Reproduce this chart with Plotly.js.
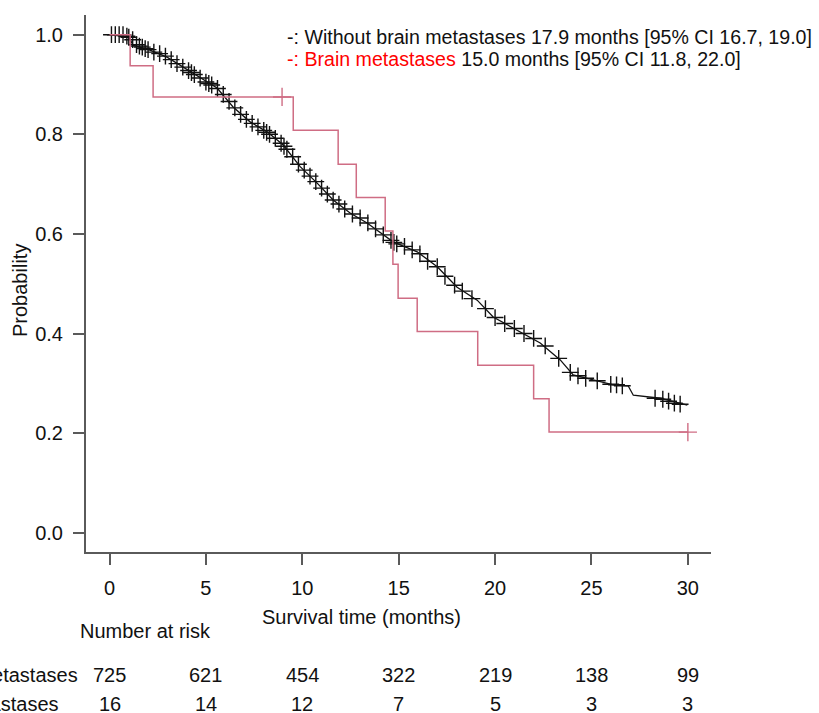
<!DOCTYPE html>
<html>
<head>
<meta charset="utf-8">
<script src="https://cdn.plot.ly/plotly-3.0.1.min.js"></script>
<style>html,body{margin:0;padding:0;background:#fff;}#chart{width:819px;height:713px;}</style>
</head>
<body>
<div id="chart"></div>
<script>
// Without brain metastases: curve points (months, probability)
const noBmTime = [0, 1.0, 1.22, 2.1, 2.98, 3.81, 4.7, 5.58, 6.41, 7.29, 8.17, 9.0, 9.89, 10.77, 11.6, 12.48, 13.36, 14.19, 14.71, 15.96, 17.0, 18.03, 19.07, 19.9, 21.15, 22.34, 23.38, 24.05, 25.09, 26.13, 26.9, 27.17, 28.57, 29.97];
const noBmProb = [1.0, 0.995, 0.979, 0.969, 0.955, 0.935, 0.913, 0.893, 0.855, 0.825, 0.805, 0.779, 0.735, 0.702, 0.668, 0.642, 0.622, 0.598, 0.584, 0.564, 0.534, 0.493, 0.467, 0.433, 0.407, 0.381, 0.347, 0.317, 0.307, 0.297, 0.295, 0.276, 0.270, 0.256];
// Without brain metastases: censor marks
const noBmCensT = [0.1, 0.3, 0.5, 0.7, 0.9, 1.0, 1.2, 1.4, 1.55, 1.7, 1.85, 2.0, 2.3, 2.6, 2.9, 3.2, 3.5, 3.8, 4.1, 4.25, 4.4, 4.7, 5.0, 5.15, 5.3, 5.6, 5.9, 6.2, 6.5, 6.8, 7.1, 7.4, 7.7, 8.0, 8.15, 8.3, 8.6, 8.9, 9.05, 9.2, 9.5, 9.8, 10.1, 10.4, 10.7, 11.0, 11.3, 11.6, 11.9, 12.2, 12.6, 13.0, 13.4, 13.8, 14.2, 14.6, 14.75, 14.9, 15.3, 15.7, 16.1, 16.5, 17.0, 17.4, 17.9, 18.3, 18.8, 19.5, 20.0, 20.5, 21.0, 21.5, 22.0, 22.6, 23.3, 23.9, 24.3, 24.7, 25.3, 26.0, 26.3, 26.6, 28.3, 28.7, 29.0, 29.3, 29.6];
const noBmCensP = [1.0, 1.0, 1.0, 1.0, 0.997, 0.995, 0.99, 0.98, 0.977, 0.975, 0.972, 0.97, 0.965, 0.962, 0.957, 0.95, 0.942, 0.935, 0.928, 0.924, 0.92, 0.913, 0.905, 0.902, 0.899, 0.892, 0.88, 0.866, 0.853, 0.84, 0.83, 0.822, 0.815, 0.808, 0.804, 0.8, 0.792, 0.782, 0.776, 0.77, 0.755, 0.74, 0.728, 0.716, 0.705, 0.692, 0.68, 0.668, 0.66, 0.65, 0.64, 0.632, 0.622, 0.61, 0.598, 0.587, 0.583, 0.58, 0.575, 0.568, 0.56, 0.545, 0.534, 0.515, 0.497, 0.485, 0.47, 0.45, 0.432, 0.42, 0.41, 0.4, 0.39, 0.375, 0.35, 0.322, 0.315, 0.31, 0.305, 0.298, 0.297, 0.295, 0.27, 0.268, 0.264, 0.26, 0.258];
// Brain metastases: step curve
const bmTime = [0, 1.07, 2.26, 9.53, 11.86, 12.8, 14.3, 14.7, 14.97, 15.96, 19.1, 22.0, 22.8, 30.0];
const bmProb = [1.0, 0.9375, 0.875, 0.808, 0.740, 0.673, 0.606, 0.539, 0.471, 0.404, 0.336, 0.269, 0.202, 0.202];
const bmCensT = [8.95, 30.0];
const bmCensP = [0.875, 0.202];
// Number at risk
const riskTimes = [0, 5, 10, 15, 20, 25, 30];
const riskNoBm = [725, 621, 454, 322, 219, 138, 99];
const riskBm = [16, 14, 12, 7, 5, 3, 3];
const xTicks = [0, 5, 10, 15, 20, 25, 30];
const yTicks = [0.0, 0.2, 0.4, 0.6, 0.8, 1.0];

const F = "Liberation Sans, Arial, sans-serif";
const FS = 20;
const axisCol = "#5a5a5a";
const redCol = "#cf6d84";

const traces = [
  {x: noBmTime, y: noBmProb, mode: "lines", line: {color: "#111", width: 1.3}, hoverinfo: "skip"},
  {x: noBmCensT, y: noBmCensP, mode: "markers", marker: {symbol: "cross-thin-open", size: 12, color: "#111", line: {color: "#111", width: 1.4}}, hoverinfo: "skip"},
  {x: bmTime, y: bmProb, mode: "lines", line: {color: redCol, width: 1.5, shape: "hv"}, hoverinfo: "skip"},
  {x: bmCensT, y: bmCensP, mode: "markers", marker: {symbol: "cross-thin-open", size: 13, color: redCol, line: {color: redCol, width: 1.4}}, hoverinfo: "skip"}
];

const ann = [];
const px2x = p => (p - 86) / 625;
const py2y = p => (552 - p) / 537;
const tf = {family: F, size: FS, color: "#111"};
const lf = {family: F, size: 19.6, color: "#111"};
ann.push({xref: "paper", yref: "paper", x: px2x(285), y: py2y(37), xanchor: "left", yanchor: "middle", showarrow: false,
  text: "-: Without brain metastases 17.9 months [95% CI 16.7, 19.0]", font: lf});
ann.push({xref: "paper", yref: "paper", x: px2x(285), y: py2y(59), xanchor: "left", yanchor: "middle", showarrow: false,
  text: "<span style='color:#ff0000'>-: Brain metastases</span> 15.0 months [95% CI 11.8, 22.0]", font: lf});
ann.push({xref: "paper", yref: "paper", x: px2x(361), y: py2y(617), xanchor: "center", yanchor: "middle", showarrow: false,
  text: "Survival time (months)", font: tf});
ann.push({xref: "paper", yref: "paper", x: px2x(20), y: py2y(291), xanchor: "center", yanchor: "middle", showarrow: false, textangle: -90,
  text: "Probability", font: tf});
ann.push({xref: "paper", yref: "paper", x: px2x(78), y: py2y(631), xanchor: "left", yanchor: "middle", showarrow: false,
  text: "Number at risk", font: tf});
ann.push({xref: "paper", yref: "paper", x: px2x(80), y: py2y(675), xanchor: "right", yanchor: "middle", showarrow: false,
  text: "Without brain metastases", font: tf});
ann.push({xref: "paper", yref: "paper", x: px2x(61), y: py2y(704), xanchor: "right", yanchor: "middle", showarrow: false,
  text: "Brain metastases", font: tf});
riskTimes.forEach((t, i) => {
  ann.push({xref: "x", yref: "paper", x: t, y: py2y(675), xanchor: "center", yanchor: "middle", showarrow: false,
    text: String(riskNoBm[i]), font: tf});
  ann.push({xref: "x", yref: "paper", x: t, y: py2y(704), xanchor: "center", yanchor: "middle", showarrow: false,
    text: String(riskBm[i]), font: tf});
});

const layout = {
  width: 819, height: 713,
  margin: {l: 86, r: 108, t: 15, b: 161, pad: 0},
  paper_bgcolor: "#fff", plot_bgcolor: "#fff",
  showlegend: false,
  xaxis: {range: [-1.22, 31.2], tickvals: xTicks, ticktext: xTicks.map(String), showgrid: false, zeroline: false,
    showline: true, linecolor: axisCol, linewidth: 2, ticks: "outside", ticklen: 11, tickwidth: 2, tickcolor: axisCol,
    tickfont: tf, ticklabelstandoff: 6},
  yaxis: {range: [-0.0388, 1.0396], tickvals: yTicks, ticktext: yTicks.map(v => v.toFixed(1)), showgrid: false, zeroline: false,
    showline: true, linecolor: axisCol, linewidth: 2, ticks: "outside", ticklen: 11, tickwidth: 2, tickcolor: axisCol,
    tickfont: tf, ticklabelstandoff: 6},
  annotations: ann
};

Plotly.newPlot("chart", traces, layout, {displayModeBar: false, staticPlot: true});
</script>
</body>
</html>
